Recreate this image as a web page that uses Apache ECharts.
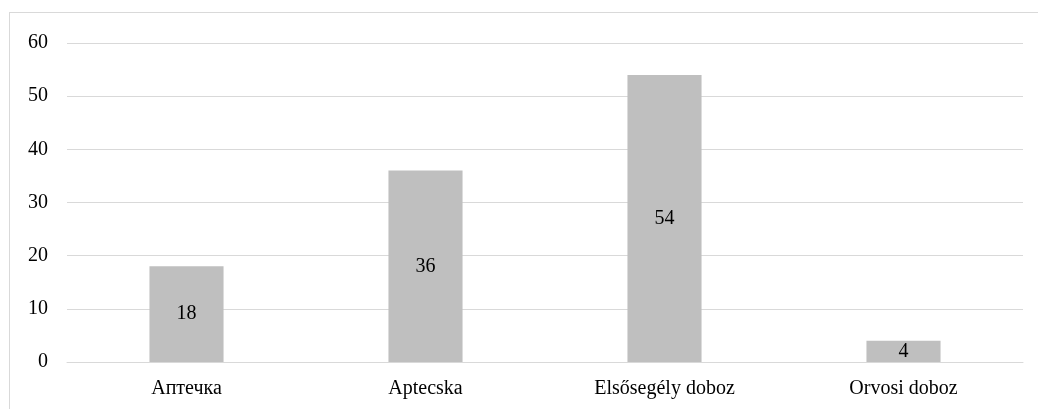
<!DOCTYPE html>
<html>
<head>
<meta charset="utf-8">
<script src="https://cdn.jsdelivr.net/npm/echarts@6/dist/echarts.min.js"></script>
<style>
html,body{margin:0;padding:0;background:#fff;}
#frame{position:absolute;left:9px;top:12px;width:1040px;height:420px;border:1px solid #d9d9d9;box-sizing:border-box;}
#chart{position:absolute;left:0;top:0;width:1038px;height:409px;}
</style>
</head>
<body>
<div id="frame"></div>
<div id="chart"></div>
<script>
const categories = ['Аптечка', 'Aptecska', 'Elsősegély doboz', 'Orvosi doboz'];
const values = [18, 36, 54, 4];
const yMin = 0, yMax = 60, yStep = 10;

const chart = echarts.init(document.getElementById('chart'), null, {renderer: 'canvas'});
const font = '"Liberation Serif", "Times New Roman", serif';
chart.setOption({
  animation: false,
  grid: {left: 67, right: 15, top: 43, bottom: 47, containLabel: false},
  xAxis: {
    type: 'category',
    data: categories,
    axisLine: {show: true, lineStyle: {color: '#d9d9d9', width: 1}},
    axisTick: {show: false},
    axisLabel: {color: '#000', fontFamily: font, fontSize: 20, margin: 17}
  },
  yAxis: {
    type: 'value',
    min: yMin, max: yMax, interval: yStep,
    axisLine: {show: false},
    axisTick: {show: false},
    splitLine: {lineStyle: {color: '#d9d9d9', width: 1}},
    axisLabel: {color: '#000', fontFamily: font, fontSize: 20, margin: 19}
  },
  series: [{
    type: 'bar',
    data: values,
    barWidth: '31%',
    itemStyle: {color: '#bfbfbf'},
    label: {show: true, position: 'inside', color: '#000', fontFamily: font, fontSize: 20}
  }]
});
</script>
</body>
</html>
